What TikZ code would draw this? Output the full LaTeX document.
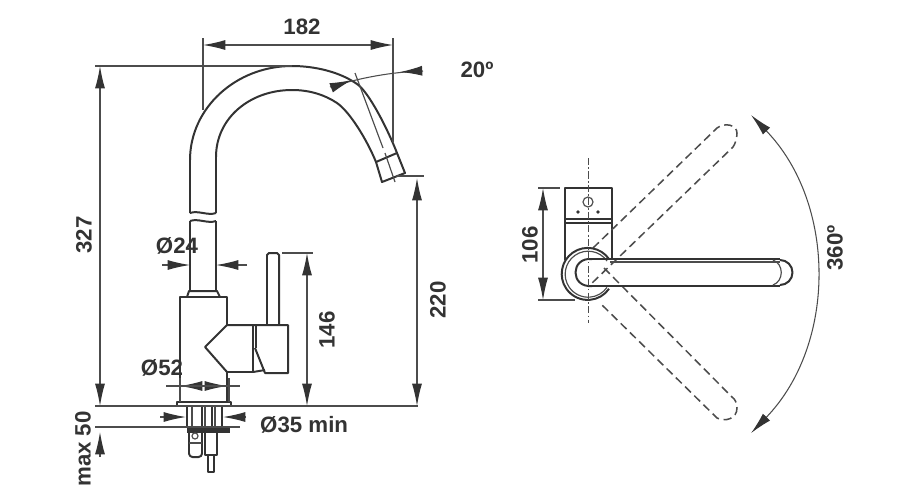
\documentclass[tikz,border=0pt]{standalone}
\usepackage{fontspec}
\setmainfont{Liberation Sans}
\usepackage{xcolor}
\definecolor{dimgray}{rgb}{0.3,0.3,0.3}
\definecolor{inkgray}{rgb}{0.2,0.2,0.2}
\usetikzlibrary{arrows.meta}
\tikzset{
  part/.style={draw=inkgray,line width=1.7pt,line join=round},
  thinpart/.style={draw=dimgray,line width=1pt},
  dimline/.style={draw=dimgray,line width=0.9pt},
  dimarrow/.style={dimline,{Latex[length=19pt,width=8.5pt,color=inkgray]}-{Latex[length=19pt,width=8.5pt,color=inkgray]}},
  endarrow/.style={dimline,-{Latex[length=19pt,width=8.5pt,color=inkgray]}},
  ghost/.style={draw=dimgray,line width=1.3pt,dash pattern=on 7pt off 4pt},
  axisline/.style={draw=dimgray,line width=0.8pt,dash pattern=on 6pt off 2pt on 1.5pt off 2pt},
  dimlabel/.style={text=inkgray,font=\bfseries\fontsize{19}{21}\selectfont,inner sep=0pt}
}
\begin{document}
\begin{tikzpicture}[x=0.03cm, y=-0.03cm]
\useasboundingbox (0,0) rectangle (900,496);
\draw[part] (190,213)--(190,160) .. controls (190,108) and (236,66) .. (292,66) .. controls (315,66) and (340,72) .. (357,84) .. controls (369,92) and (388,130) .. (397,153);
\draw[part] (216,213)--(216,157) .. controls (216,118) and (250,90) .. (292,90) .. controls (310,90) and (325,95) .. (337,103) .. controls (350,112) and (367,140) .. (376,162);
\draw[part] (376,162)--(397,153)--(405,173)--(382,182)--cycle;
\draw[part] (190,213) .. controls (198,210) and (208,216) .. (216,213);
\draw[part] (190,221) .. controls (198,218) and (208,224) .. (216,221);
\draw[part] (190,221)--(190,292);
\draw[part] (216,221)--(216,292);
\draw[part] (187,297)--(189,291)--(217,291)--(220,297);
\draw[part] (227,325)--(227,297)--(180,297)--(180,402);
\draw[part] (227,372)--(227,402);
\draw[part] (227,325)--(205,347)--(227,372);
\draw[part] (227,325)--(288,325)--(288,373)--(265,373)--(255,348);
\draw[part] (227,372)--(253,372)--(253,325);
\draw[part] (256,325)--(256,348);
\draw[part] (253,372)--(265,370);
\draw[part] (267,325)--(267,255)--(269,253)--(277,253)--(279,255)--(279,325);
\draw[part] (177,402) rectangle (231,406);
\draw[part] (187,406)--(187,428);
\draw[thinpart] (192,406)--(192,428);
\draw[part] (202,406)--(202,428);
\draw[thinpart] (205,406)--(205,428);
\draw[part] (212,406)--(212,428);
\draw[thinpart] (215,406)--(215,428);
\draw[part] (222,406)--(222,428);
\fill[inkgray] (187,428) rectangle (230,433);
\draw[part,rounded corners=3pt] (189,433)--(189,457)--(202,457)--(202,433);
\draw[thinpart] (189,443)--(202,443);
\draw[thinpart] (195,436) circle (3);
\draw[part] (205,433)--(205,455)--(217,455)--(217,433);
\draw[part] (208,455)--(208,472)--(214,472)--(214,455);
\draw[dimarrow] (203,45)--(393,45);
\draw[dimline] (203,38)--(203,110);
\draw[dimline] (393,38)--(393,142);
\draw[dimline] (95,66)--(292,66);
\draw[dimarrow] (100,66)--(100,406);
\draw[dimline] (95,406)--(418,406);
\draw[dimline] (95,427)--(240,427);
\draw[endarrow] (100,457)--(100,432);
\draw[endarrow] (162,265)--(190,265);
\draw[endarrow] (247,265)--(216,265);
\draw[endarrow] (203,386)--(180,386);
\draw[endarrow] (203,386)--(227,386);
\draw[dimline] (166,386)--(240,386);
\draw[dimline] (180,378)--(180,402);
\draw[dimline] (229,378)--(229,402);
\draw[endarrow] (160,417)--(186,417);
\draw[endarrow] (246,417)--(223,417);
\draw[dimarrow] (307,253)--(307,406);
\draw[dimline] (282,253)--(313,253);
\draw[dimline] (396,176)--(424,176);
\draw[dimarrow] (417,178)--(417,406);
\draw[dimline] (330,87) .. controls (360,78) and (390,72) .. (423,71);
\draw[endarrow] (336,86)--(352,80);
\draw[endarrow] (418,71)--(400,72);
\draw[thinpart] (355,73)--(383,148);
\draw[thinpart] (385,153)--(395,182);
\node[dimlabel] (lenspout) at (302,27) {182};
\node[dimlabel] (angspout) at (477,70) {20º};
\node[dimlabel,rotate=90] (lentotal) at (84,235) {327};
\node[dimlabel,rotate=90] (lenbelow) at (83,449) {max 50};
\node[dimlabel] (diatube) at (177,246) {Ø24};
\node[dimlabel] (diabody) at (162,368) {Ø52};
\node[dimlabel,anchor=west] (diahole) at (260,425) {Ø35 min};
\node[dimlabel,rotate=90] (lenlever) at (327,330) {146};
\node[dimlabel,rotate=90] (lenoutlet) at (438,300) {220};
\draw[part] (565,188) rectangle (612,219);
\draw[part] (565,223)--(612,223);
\draw[part] (565,219)--(565,260);
\draw[part] (612,219)--(612,260);
\draw[thinpart] (588,202) circle (5);
\fill[inkgray] (578,212) circle (1.8);
\fill[inkgray] (598,212) circle (1.8);
\draw[ghost] (593,248)--(717,128) .. controls (725,122) and (737,125) .. (737,133) .. controls (737,139) and (735,144) .. (733,147)--(590,285);
\draw[ghost] (604,268)--(732,397) .. controls (735,399) and (737,403) .. (737,408) .. controls (737,419) and (725,422) .. (717,418)--(600,303);
\draw[part] (609,259) arc (-35:-325:26);
\draw[thinpart] (607,261) arc (-35:-325:23);
\draw[part] (780,260) arc (-90:90:12.5);
\draw[part] (590,259)--(780,259);
\draw[part] (590,286)--(780,286);
\draw[thinpart] (610,262)--(780,262);
\draw[thinpart] (773,260) .. controls (784,264) and (784,281) .. (773,285);
\draw[part] (592,259) .. controls (570,257) and (570,288) .. (592,286);
\draw[axisline] (588,158)--(588,323);
\draw[dimarrow] (543,188)--(543,300);
\draw[dimline] (538,188)--(560,188);
\draw[dimline] (538,300)--(575,300);
\draw[dimline,{Latex[length=19pt,width=8.5pt,color=inkgray]}-{Latex[length=19pt,width=8.5pt,color=inkgray]}] (751,115) arc (-44:44:229);
\node[dimlabel,rotate=90] (lenhead) at (530,245) {106};
\node[dimlabel,rotate=90] (angswing) at (835,248) {360º};
\end{tikzpicture}
\end{document}
